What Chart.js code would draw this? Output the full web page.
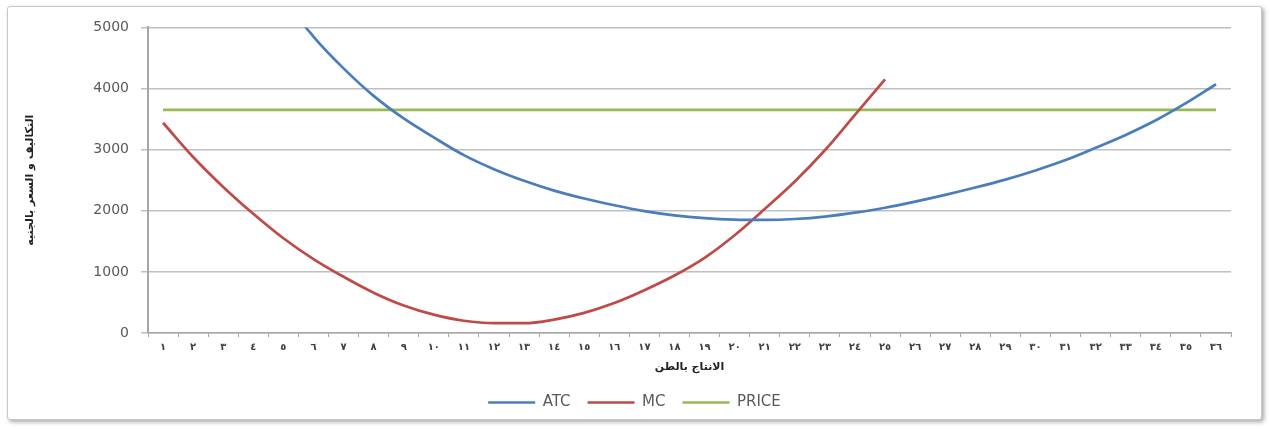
<!DOCTYPE html>
<html>
<head>
<meta charset="utf-8">
<script src="https://cdn.jsdelivr.net/npm/chart.js@4/dist/chart.umd.min.js"></script>
<style>
    body { margin: 0; background: #fff; }
    .frame {
        position: absolute; left: 7px; top: 6px;
        width: 1253px; height: 412px;
        border: 1px solid #c8c8c8;
        border-radius: 3px;
        box-shadow: 2px 2px 4px rgba(0,0,0,0.35);
        background: #fff;
    }
</style>
</head>
<body>
<div class="frame"><canvas id="myChart" width="1253" height="412"></canvas></div>
<script>
// categories (tons produced)
const categories = ['١','٢','٣','٤','٥','٦','٧','٨','٩','١٠','١١','١٢','١٣','١٤','١٥','١٦','١٧','١٨',
    '١٩','٢٠','٢١','٢٢','٢٣','٢٤','٢٥','٢٦','٢٧','٢٨','٢٩','٣٠','٣١','٣٢','٣٣','٣٤','٣٥','٣٦'];

const atcValues = [18500, 10800, 8000, 6500, 5500, 4850, 4330, 3880, 3510, 3200, 2910, 2680,
    2490, 2330, 2200, 2090, 1995, 1925, 1880, 1855, 1850, 1865, 1905, 1970, 2050, 2150, 2260,
    2380, 2510, 2660, 2830, 3030, 3240, 3480, 3760, 4070];

const mcValues = [3440, 2880, 2390, 1950, 1550, 1210, 920, 660, 450, 300, 200, 160, 160,
    220, 330, 490, 700, 940, 1230, 1600, 2030, 2480, 2990, 3570, 4150];

const priceValues = [3650, 3650, 3650, 3650, 3650, 3650, 3650, 3650, 3650, 3650, 3650, 3650,
    3650, 3650, 3650, 3650, 3650, 3650, 3650, 3650, 3650, 3650, 3650, 3650, 3650, 3650, 3650,
    3650, 3650, 3650, 3650, 3650, 3650, 3650, 3650, 3650];

const yTicks = [0, 1000, 2000, 3000, 4000, 5000];

document.addEventListener("DOMContentLoaded", function() {
    const ctx = document.getElementById('myChart').getContext('2d');

    const lineStyle = {
        borderWidth: 2.7,
        pointRadius: 0,
        fill: false,
        tension: 0.4,
        cubicInterpolationMode: 'monotone'
    };

    const data = {
        labels: categories,
        datasets: [
            Object.assign({ label: 'ATC', data: atcValues, borderColor: '#4a7ebb', backgroundColor: '#4a7ebb' }, lineStyle),
            Object.assign({ label: 'MC', data: mcValues, borderColor: '#be4b48', backgroundColor: '#be4b48' }, lineStyle),
            Object.assign({ label: 'PRICE', data: priceValues, borderColor: '#98b954', backgroundColor: '#98b954' }, lineStyle)
        ]
    };

    // nudge the legend a bit, like the excel original
    const legendShift = {
        id: 'legendShift',
        afterLayout: function(chart) {
            if (chart.legend) {
                chart.legend.left += 15;
                chart.legend.right += 15;
                chart.legend.top -= 4;
                chart.legend.bottom -= 4;
            }
        }
    };

    const options = {
        responsive: false,
        animation: false,
        layout: { padding: { top: 20, right: 30, left: 0, bottom: -5 } },
        scales: {
            x: {
                offset: true,
                grid: {
                    offset: true,
                    drawOnChartArea: false,
                    drawTicks: true,
                    tickLength: 4,
                    color: '#a6a6a6'
                },
                border: { color: '#a6a6a6', width: 1.5 },
                ticks: {
                    autoSkip: false,
                    maxRotation: 0,
                    padding: 4,
                    color: '#404040',
                    font: { family: 'DejaVu Sans', size: 10, weight: 'bold' }
                },
                title: {
                    display: true,
                    text: 'الانتاج بالطن',
                    color: '#222',
                    font: { family: 'DejaVu Sans', size: 11, weight: 'bold' },
                    padding: { top: 2, bottom: 8 }
                },
                afterFit: function(scale) { scale.height = 49; }
            },
            y: {
                min: 0,
                max: 5000,
                afterBuildTicks: function(scale) {
                    scale.ticks = yTicks.map(v => ({ value: v }));
                },
                grid: {
                    color: '#c0c0c0',
                    lineWidth: 1.5,
                    tickLength: 7
                },
                border: { color: '#a6a6a6', width: 2 },
                ticks: {
                    padding: 12,
                    color: '#595959',
                    font: { family: 'DejaVu Sans', size: 14 },
                    callback: function(value) { return String(value); }
                },
                title: {
                    display: true,
                    text: 'التكاليف و السعر بالجنيه',
                    color: '#222',
                    font: { family: 'DejaVu Sans', size: 11, weight: 'bold' },
                    padding: { top: 16, bottom: 0 }
                },
                afterFit: function(scale) { scale.width = 140; }
            }
        },
        plugins: {
            legend: {
                position: 'bottom',
                labels: {
                    usePointStyle: true,
                    pointStyle: 'line',
                    pointStyleWidth: 47,
                    boxHeight: 13,
                    padding: 17,
                    color: '#595959',
                    font: { family: 'DejaVu Sans', size: 15 }
                }
            },
            tooltip: { enabled: false }
        }
    };

    new Chart(ctx, {
        type: 'line',
        data: data,
        options: options,
        plugins: [legendShift]
    });
});
</script>
</body>
</html>
